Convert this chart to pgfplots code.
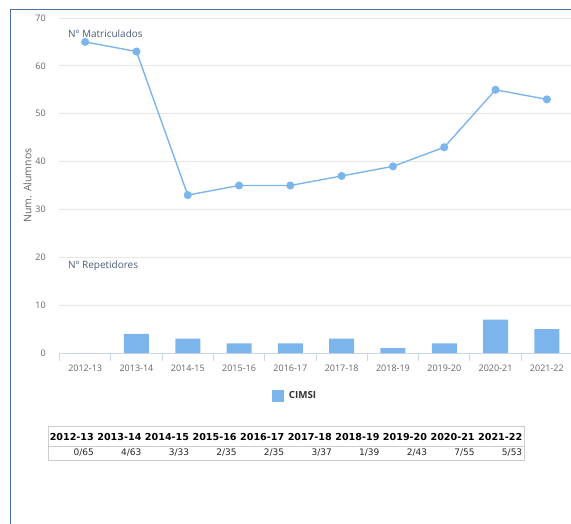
\documentclass[border=0pt]{standalone}
\usepackage{fontspec}
\setmainfont{Open Sans}
\newfontfamily\dejavu{DejaVu Sans}
\usepackage{pgfplots}
\pgfplotsset{compat=1.18}
\definecolor{cimsi}{HTML}{7CB5EC}
\definecolor{tick}{HTML}{666666}
\definecolor{gridc}{HTML}{E6E6E6}
\definecolor{xaxisc}{HTML}{CCD6EB}
\definecolor{annot}{HTML}{4A5C7A}
\definecolor{frame}{HTML}{4A72A6}
\definecolor{tabline}{HTML}{CCCCCC}
\begin{document}
\begin{tikzpicture}
\useasboundingbox (0pt,0pt) rectangle (571pt,-524pt);
\draw[frame, line width=1pt] (10pt,-524pt) -- (10pt,-9.5pt) -- (571pt,-9.5pt);
\begin{axis}[
  at={(59.5pt,-353pt)}, anchor=south west,
  scale only axis, width=513pt, height=335pt,
  xmin=-0.5, xmax=9.5, ymin=0, ymax=70,
  axis x line*=bottom, axis y line*=left,
  x axis line style={xaxisc, line width=1pt, -},
  y axis line style={draw=none},
  ytick={0,10,...,70},
  ymajorgrids, grid style={gridc, line width=1pt},
  major y tick style={draw=none},
  xtick={0,...,9},
  xticklabels={2012-13,2013-14,2014-15,2015-16,2016-17,2017-18,2018-19,2019-20,2020-21,2021-22},
  major x tick style={draw=none},
  minor xtick={-0.5,0.5,...,9.5},
  minor x tick style={xaxisc, line width=1pt},
  minor tick length=8pt, tick align=outside,
  ticklabel style={font=\fontsize{9}{11}\selectfont, text=tick},
  xticklabel style={yshift=-4pt},
  yticklabel style={xshift=-6pt},
  /pgf/number format/assume math mode=true,
  ylabel={Num. Alumnos}, ylabel style={font=\fontsize{10.5}{12}\selectfont, text=tick, yshift=-3pt},
  legend style={at={(axis description cs:0.459,-0.128)}, anchor=center, draw=none,
    font=\fontsize{9.8}{11}\selectfont\bfseries, text=black!80, legend cell align=left},
  clip=false,
]
\addplot[ybar, bar width=25pt, fill=cimsi, draw=none, forget plot] coordinates {
 (0,0) (1,4) (2,3) (3,2) (4,2) (5,3) (6,1) (7,2) (8,7) (9,5)};
\addplot[cimsi, line width=1.4pt, mark=*, mark size=3.3pt, mark options={solid, fill=cimsi, draw=none}, forget plot] coordinates {
 (0,65) (1,63) (2,33) (3,35) (4,35) (5,37) (6,39) (7,43) (8,55) (9,53)};
\addlegendimage{legend image code/.code={\fill[cimsi, draw=none] (0pt,-6pt) rectangle (12pt,6pt); \path[draw=none, fill=none] (0pt,0pt) -- (15pt,0pt);}}
\addlegendentry{CIMSI}
\end{axis}
\node[anchor=west, text=annot, font=\fontsize{10}{12}\selectfont, inner sep=0pt] at (68pt,-34pt) {Nº Matriculados};
\node[anchor=west, text=annot, font=\fontsize{10}{12}\selectfont, inner sep=0pt] at (68pt,-266pt) {Nº Repetidores};
% table
\draw[tabline, line width=1pt] (48pt,-426pt) rectangle (524pt,-460pt);
\draw[tabline, line width=1pt] (48pt,-446pt) -- (524pt,-446pt);
\foreach \h/\v [count=\i from 0] in {2012-13/0\slash 65,2013-14/4\slash 63,2014-15/3\slash 33,2015-16/2\slash 35,2016-17/2\slash 35,2017-18/3\slash 37,2018-19/1\slash 39,2019-20/2\slash 43,2020-21/7\slash 55,2021-22/5\slash 53}{
  \node[font=\dejavu\fontsize{9.6}{11}\selectfont\bfseries, inner sep=0pt] at ({48pt+47.6pt*\i+23.8pt},-437pt) {\h};
  \node[anchor=east, font=\dejavu\fontsize{9}{10}\selectfont, text=black!85, inner sep=0pt] at ({48pt+47.6pt*\i+46pt},-453pt) {\v};
}
\end{tikzpicture}
\end{document}
